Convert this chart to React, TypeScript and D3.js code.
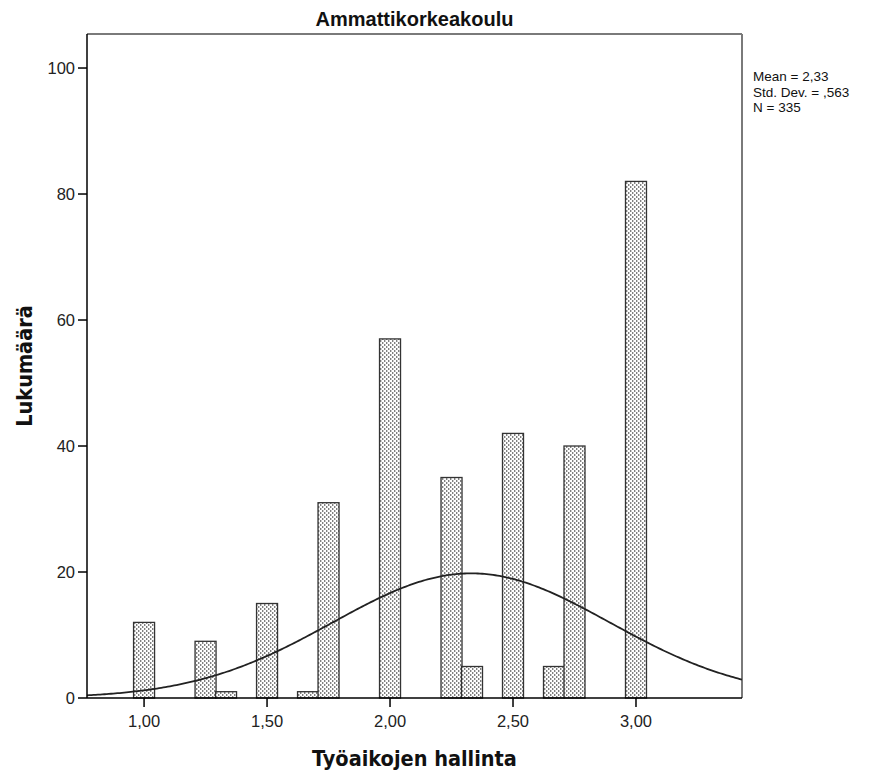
import React from "react";
import * as d3 from "d3";

const binValues = [1.0, 1.25, 1.3333, 1.5, 1.6667, 1.75, 2.0, 2.25, 2.3333, 2.5, 2.6667, 2.75, 3.0];
const binCounts = [12, 9, 1, 15, 1, 31, 57, 35, 5, 42, 5, 40, 82];
const xTicks = [1.0, 1.5, 2.0, 2.5, 3.0];
const xTickLabels = ["1,00", "1,50", "2,00", "2,50", "3,00"];
const yTicks = [0, 20, 40, 60, 80, 100];
const statsLines = ["Mean = 2,33", "Std. Dev. = ,563", "N = 335"];
const mean = 2.33;
const sd = 0.563;
const n = 335;
const binWidth = 1 / 12;

const W = 891;
const H = 778;
const left = 87;
const right = 742;
const top = 34;
const bottom = 698;

export default function App() {
  const x = d3.scaleLinear().domain([0.768, 3.431]).range([left, right]);
  const y = d3.scaleLinear().domain([0, 105.4]).range([bottom, top]);
  const barW = 0.0854;

  const xs = d3.range(0, 301).map((i) => 0.768 + (i / 300) * (3.431 - 0.768));
  const curve = xs.map((v) => [
    v,
    (n * binWidth) / (sd * Math.sqrt(2 * Math.PI)) * Math.exp(-0.5 * ((v - mean) / sd) ** 2),
  ]);
  const line = d3
    .line<number[]>()
    .x((d) => x(d[0]))
    .y((d) => y(d[1]));

  const sans = "'Liberation Sans', Arial, sans-serif";
  const bold = "'DejaVu Sans Condensed', 'DejaVu Sans', Verdana, sans-serif";

  return (
    <svg width={W} height={H} style={{ position: "absolute", left: 0, top: 0, background: "#fff" }}>
      <defs>
        <pattern id="dots" width="4" height="4" patternUnits="userSpaceOnUse">
          <rect width="4" height="4" fill="#fff" />
          <rect x="0" y="0" width="1.4" height="2" fill="#808080" />
          <rect x="2" y="2" width="1.4" height="2" fill="#808080" />
        </pattern>
        <clipPath id="plotclip">
          <rect x={left} y={top} width={right - left} height={bottom - top} />
        </clipPath>
      </defs>
      <rect x={0} y={0} width={W} height={H} fill="#fff" />
      {/* frame */}
      <line x1={left} y1={top} x2={right} y2={top} stroke="#7a7a7a" strokeWidth={2} />
      <line x1={right} y1={top} x2={right} y2={bottom} stroke="#7a7a7a" strokeWidth={2} />
      {/* bars */}
      {binValues.map((v, i) => (
        <rect
          key={i}
          x={x(v - barW / 2)}
          y={y(binCounts[i])}
          width={x(v + barW / 2) - x(v - barW / 2)}
          height={bottom - y(binCounts[i])}
          fill="url(#dots)"
          stroke="#333"
          strokeWidth={1.3}
        />
      ))}
      {/* normal curve */}
      <path d={line(curve) || ""} fill="none" stroke="#222" strokeWidth={1.8} clipPath="url(#plotclip)" />
      {/* axes */}
      <line x1={left} y1={top} x2={left} y2={bottom} stroke="#000" strokeWidth={1.5} />
      <line x1={left} y1={bottom} x2={right} y2={bottom} stroke="#000" strokeWidth={1.5} />
      {yTicks.map((t) => (
        <g key={t}>
          <line x1={left - 9} x2={left} y1={y(t)} y2={y(t)} stroke="#000" strokeWidth={1.5} />
          <text x={left - 12} y={y(t) + 6} textAnchor="end" fontFamily={sans} fontSize={16.5} fill="#222">
            {t}
          </text>
        </g>
      ))}
      {xTicks.map((t, i) => (
        <g key={t}>
          <line x1={x(t)} x2={x(t)} y1={bottom} y2={bottom + 9} stroke="#000" strokeWidth={1.5} />
          <text x={x(t)} y={bottom + 29} textAnchor="middle" fontFamily={sans} fontSize={16.5} fill="#222">
            {xTickLabels[i]}
          </text>
        </g>
      ))}
      {/* title */}
      <text x={(left + right) / 2} y={26} textAnchor="middle" fontFamily={sans} fontWeight="bold" fontSize={20} fill="#111">
        Ammattikorkeakoulu
      </text>
      {/* axis labels */}
      <text x={(left + right) / 2} y={766} textAnchor="middle" fontFamily={bold} fontWeight="bold" fontSize={21.5} fill="#111">
        Työaikojen hallinta
      </text>
      <text
        transform={`translate(32, ${(top + bottom) / 2}) rotate(-90)`}
        textAnchor="middle"
        fontFamily={bold}
        fontWeight="bold"
        fontSize={21.5}
        fill="#111"
      >
        Lukumäärä
      </text>
      {/* stats */}
      {statsLines.map((s, i) => (
        <text key={s} x={753} y={81 + i * 15.5} fontFamily={sans} fontSize={13.5} fill="#111">
          {s}
        </text>
      ))}
    </svg>
  );
}
